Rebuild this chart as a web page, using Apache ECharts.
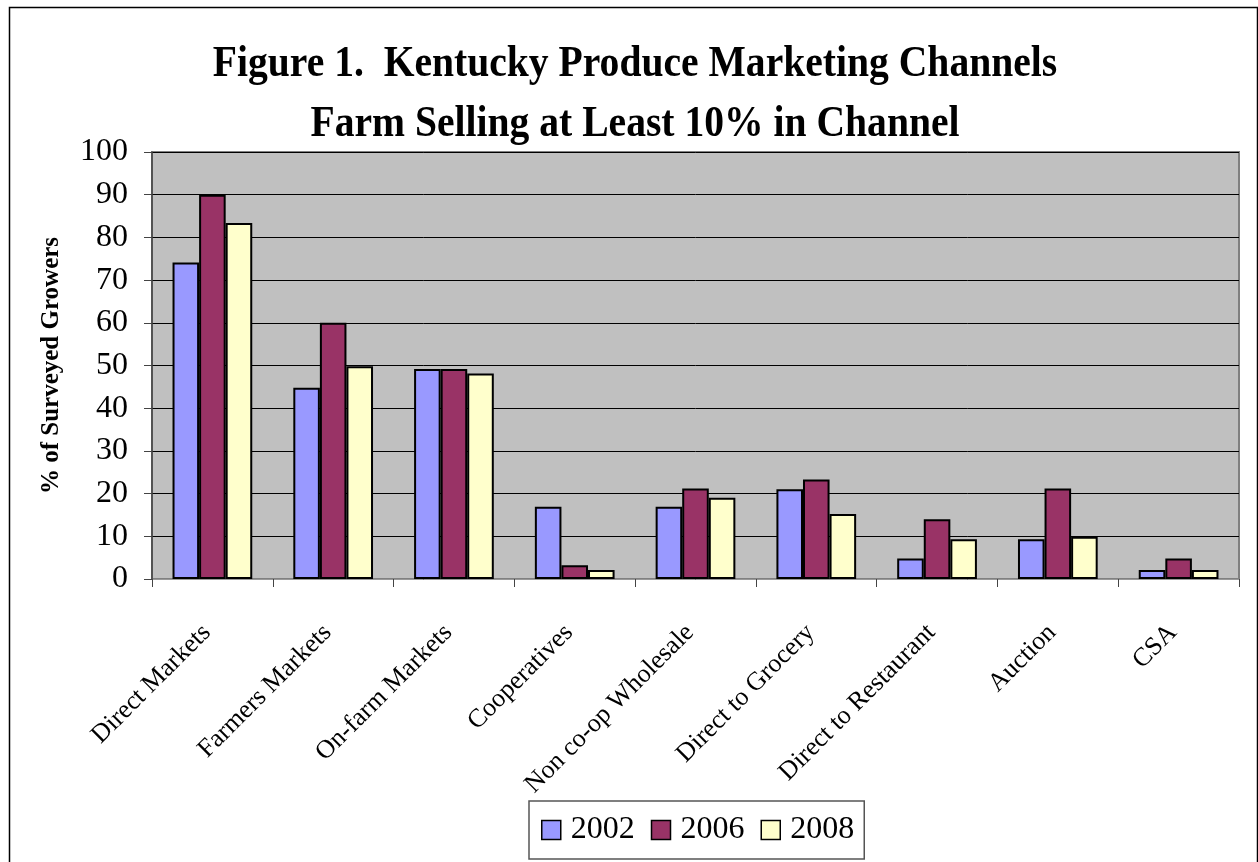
<!DOCTYPE html>
<html>
<head>
<meta charset="utf-8">
<script src="https://cdn.jsdelivr.net/npm/echarts@6/dist/echarts.min.js"></script>
<style>
  html, body { margin: 0; padding: 0; background: #fff; }
  #chart { width: 1258px; height: 862px; }
</style>
</head>
<body>
<div id="chart"></div>
<script>
// channels on the x axis
const categories = [
  "Direct Markets", "Farmers Markets", "On-farm Markets", "Cooperatives",
  "Non co-op Wholesale", "Direct to Grocery", "Direct to Restaurant", "Auction", "CSA"
];
const years = ["2002", "2006", "2008"];
// % of surveyed growers
const values2002 = [74.1, 44.8, 49.2, 16.9, 16.9, 21.0, 4.8, 9.3, 2.1];
const values2006 = [90.0, 60.0, 49.2, 3.2, 21.2, 23.3, 14.0, 21.2, 4.8];
const values2008 = [83.4, 49.8, 48.1, 2.1, 19.0, 15.2, 9.3, 9.9, 2.1];
const yTicks = [0, 10, 20, 30, 40, 50, 60, 70, 80, 90, 100];
const titleLines = [
  "Figure 1.  Kentucky Produce Marketing Channels",
  "Farm Selling at Least 10% in Channel"
];

const colors = ["#9999FF", "#993366", "#FFFFCC"];
const serif = "'Liberation Serif', 'Times New Roman', serif";

const chart = echarts.init(document.getElementById("chart"));

const series = [values2002, values2006, values2008].map((vals, i) => ({
  name: years[i],
  type: "bar",
  data: vals,
  barGap: "0%",
  barCategoryGap: "34%",
  itemStyle: {
    color: colors[i],
    borderColor: "#000",
    borderWidth: 2
  },
  emphasis: { disabled: true }
}));

// title is a bit condensed in the original, so draw it as squeezed graphic text
const titleText = titleLines.map((t, i) => ({
  type: "text",
  x: 635,
  y: 64 + i * 60,
  scaleX: 0.88,
  silent: true,
  style: {
    text: t,
    textAlign: "center",
    textVerticalAlign: "middle",
    fontFamily: serif,
    fontWeight: "bold",
    fontSize: 45,
    fill: "#000"
  }
}));

chart.setOption({
  animation: false,
  backgroundColor: "#fff",
  legend: {
    data: years,
    bottom: 3,
    left: 529,
    icon: "rect",
    itemWidth: 19,
    itemHeight: 19,
    itemGap: 16,
    padding: [13, 10, 13, 12],
    borderColor: "#555",
    borderWidth: 1.5,
    itemStyle: { borderColor: "#000", borderWidth: 1.5 },
    textStyle: { fontFamily: serif, fontSize: 32, color: "#000", padding: [0, 0, 0, 5] }
  },
  grid: {
    left: 152,
    right: 19,
    top: 152,
    bottom: 283,
    show: true,
    backgroundColor: "#C0C0C0",
    borderColor: "#808080",
    borderWidth: 2
  },
  xAxis: {
    type: "category",
    data: categories,
    axisLine: { lineStyle: { color: "#999", width: 1 } },
    axisTick: { show: true, length: 8, lineStyle: { color: "#444" } },
    axisLabel: {
      rotate: 45,
      margin: 44,
      padding: [0, 8, 0, 0],
      fontFamily: serif,
      fontSize: 26,
      color: "#000",
      interval: 0
    },
    splitLine: { show: false }
  },
  yAxis: {
    type: "value",
    min: yTicks[0],
    max: yTicks[yTicks.length - 1],
    interval: 10,
    name: "% of Surveyed Growers",
    nameLocation: "middle",
    nameRotate: 90,
    nameGap: 88,
    nameTextStyle: {
      fontFamily: serif,
      fontWeight: "bold",
      fontSize: 25,
      color: "#000"
    },
    axisLine: { show: true, lineStyle: { color: "#444", width: 1.5 } },
    axisTick: { show: true, length: 8, lineStyle: { color: "#444" } },
    axisLabel: {
      margin: 24,
      fontFamily: serif,
      fontSize: 32,
      color: "#000"
    },
    splitLine: { show: true, lineStyle: { color: "#000", width: 1 } }
  },
  graphic: [{
    type: "rect",
    left: 7,
    top: 5,
    shape: { width: 1248, height: 870 },
    style: { fill: "none", stroke: "#000", lineWidth: 1.5 },
    silent: true
  }].concat(titleText),
  series: series
});
</script>
</body>
</html>
